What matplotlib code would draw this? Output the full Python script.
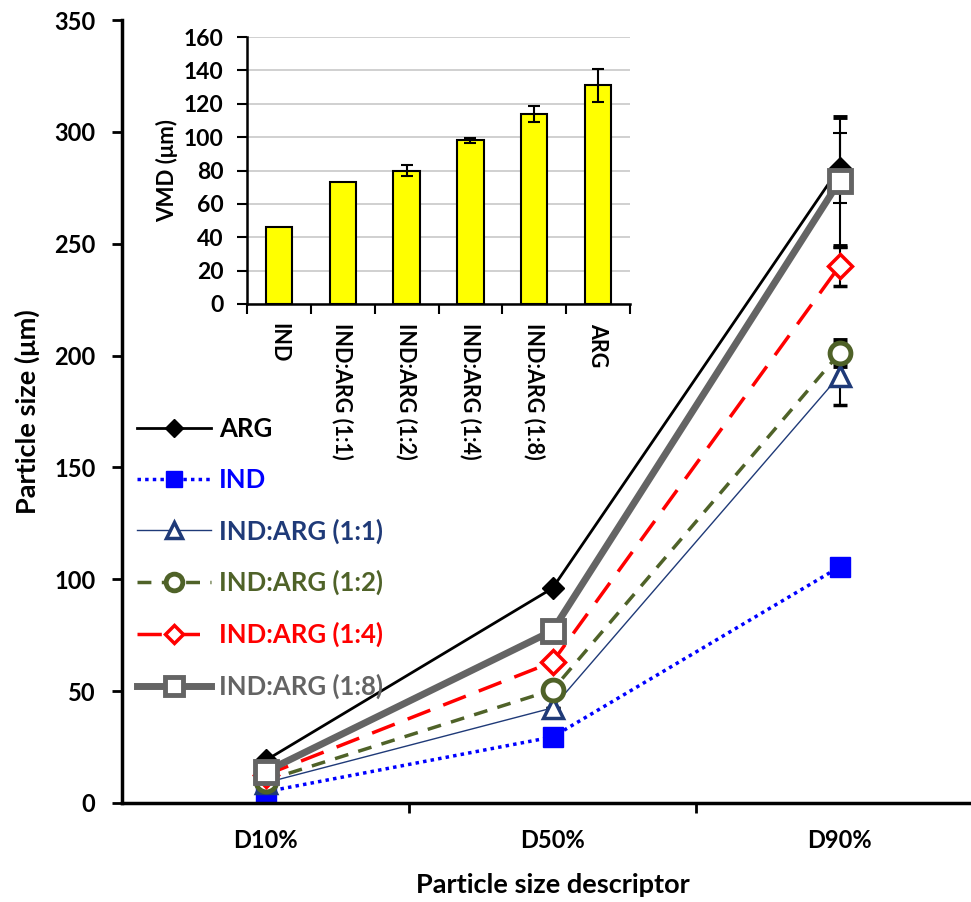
import numpy as np
import matplotlib
matplotlib.use("Agg")
import matplotlib.pyplot as plt

plt.rcParams['font.family'] = ['Lato', 'DejaVu Sans']
plt.rcParams['font.weight'] = 'bold'

# main chart data
descriptors = ['D10%', 'D50%', 'D90%']
series_names = ['ARG', 'IND', 'IND:ARG (1:1)', 'IND:ARG (1:2)',
                'IND:ARG (1:4)', 'IND:ARG (1:8)']
arg = [19, 96, 284]
ind = [5, 29.5, 105.5]
r11 = [9, 42.5, 191]
r12 = [10, 50.5, 201]
r14 = [12.5, 63, 240]
r18 = [14, 77, 278]
# error bars (only D90 visible)
arg_err = [0, 0, 15.6]
r11_err = [0, 0, 13]
r12_err = [0, 0, 5.8]
r14_err = [0, 0, 8.7]
r18_err = [0, 0, 28.8]

# inset data
vmd_labels = ['IND', 'IND:ARG (1:1)', 'IND:ARG (1:2)', 'IND:ARG (1:4)',
              'IND:ARG (1:8)', 'ARG']
vmd = [46, 73, 80, 98, 114, 131]
vmd_err = [0, 0, 3.5, 1.5, 4.7, 10]

fig = plt.figure(figsize=(9.71, 9.02), dpi=100)
ax = fig.add_axes([122/971, 99/902, 861/971, 783/902])

x = np.arange(len(descriptors))
blue = '#0000FF'
navy = '#1F3A78'
olive = '#4F6228'
red = '#FF0000'
gray = '#646464'
ebar = dict(ecolor='black', elinewidth=1.5, capsize=5, capthick=1.5)

h_ind, = ax.plot(x, ind, color=blue, ls=(0, (1, 1.2)), lw=2.5,
                 marker='s', ms=14, mfc=blue, mec=blue)
h11 = ax.errorbar(x, r11, yerr=r11_err, color=navy, lw=1, marker='^', ms=15,
                  mfc='white', mec=navy, mew=2.5, **ebar)
h12 = ax.errorbar(x, r12, yerr=r12_err, color=olive, ls=(0, (4, 3)), lw=2.5,
                  marker='o', ms=15, mfc='white', mec=olive, mew=3.5, **ebar)
h14 = ax.errorbar(x, r14, yerr=r14_err, color=red, ls=(0, (7, 4)), lw=2.5,
                  marker='D', ms=12, mfc='white', mec=red, mew=2.5, **ebar)
h_arg = ax.errorbar(x, arg, yerr=arg_err, color='black', lw=2, marker='D',
                    ms=11, mfc='black', mec='black', **ebar)
h18 = ax.errorbar(x, r18, yerr=r18_err, color=gray, lw=5, marker='s', ms=16,
                  mfc='white', mec=gray, mew=3.5, **ebar)

ax.set_xlim(-0.5, 2.5)
ax.set_ylim(0, 350)
ax.set_yticks(np.arange(0, 351, 50))
ax.set_xticks(x)
ax.set_xticklabels(descriptors)
ax.set_xticks([0.5, 1.5, 2.5], minor=True)
ax.tick_params(axis='x', which='major', length=0, pad=19, labelsize=17)
ax.tick_params(axis='x', which='minor', length=7, width=2, direction='out')
ax.tick_params(axis='y', length=7, width=2, direction='out', labelsize=17, pad=12)
for s in ['top', 'right']:
    ax.spines[s].set_visible(False)
for s in ['left', 'bottom']:
    ax.spines[s].set_linewidth(2.5)
ax.set_xlabel('Particle size descriptor', fontsize=19.5, fontweight='bold', labelpad=15)
ax.set_ylabel('Particle size (μm)', fontsize=19.5, fontweight='bold', labelpad=10)

handles = [h_arg[0], h_ind, h11[0], h12[0], h14[0], h18[0]]
colors = ['black', blue, navy, olive, red, gray]
leg = ax.legend(handles, series_names, loc='upper left',
                bbox_to_anchor=(-0.01, 0.522), frameon=False, fontsize=18.5,
                handlelength=2.9, labelspacing=1.03, handletextpad=0.3,
                markerscale=0.8)
for t, c in zip(leg.get_texts(), colors):
    t.set_color(c)

# inset
ins = fig.add_axes([247/971, 598/902, 383/971, 267/902])
xi = np.arange(len(vmd_labels))
ins.bar(xi, vmd, width=0.41, color='#FFFF00', edgecolor='black', lw=1.5, zorder=3)
ins.errorbar(xi[2:], vmd[2:], yerr=vmd_err[2:], fmt='none', ecolor='black',
             elinewidth=1.5, capsize=4.5, capthick=1.5, zorder=4)
ins.set_xlim(-0.5, 5.5)
ins.set_ylim(0, 160)
ins.set_yticks(np.arange(0, 161, 20))
ins.yaxis.grid(True, color='#C8C8C8', lw=1.2, zorder=0)
ins.set_axisbelow(True)
ins.set_xticks(xi)
ins.set_xticklabels(vmd_labels, rotation=-90, fontsize=15.5, va='top', ha='center')
ins.set_xticks(np.arange(-0.5, 5.6, 1), minor=True)
ins.tick_params(axis='x', which='major', length=0, pad=14)
ins.tick_params(axis='x', which='minor', length=7, width=1.5, direction='out')
ins.tick_params(axis='y', length=7, width=1.5, direction='out', labelsize=16.5, pad=10)
for s in ['top', 'right']:
    ins.spines[s].set_visible(False)
for s in ['left', 'bottom']:
    ins.spines[s].set_linewidth(1.8)
ins.set_ylabel('VMD (μm)', fontsize=16, fontweight='bold', labelpad=4)

fig.savefig('out.png', dpi=100)
